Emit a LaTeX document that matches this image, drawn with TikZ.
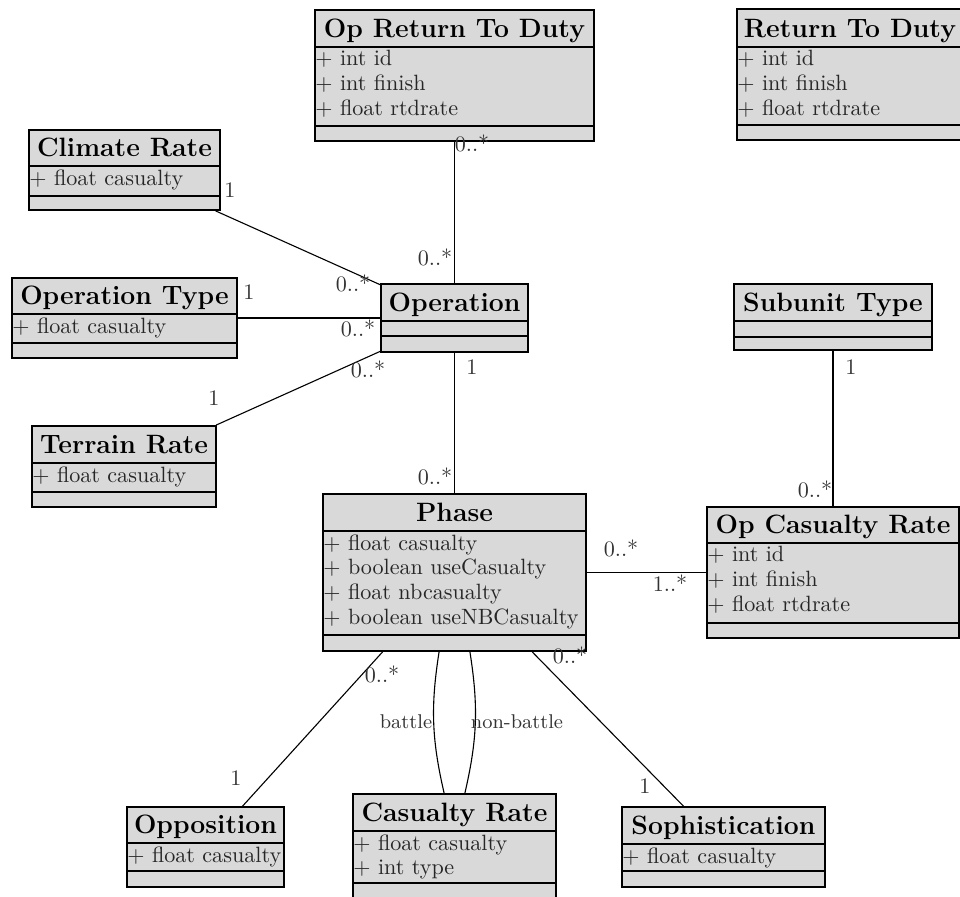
\documentclass[tikz,border=0pt]{standalone}
\usetikzlibrary{fit}
\definecolor{classfill}{RGB}{217,217,217}
\tikzset{
  classbox/.style={draw=black, line width=0.8pt, fill=classfill, inner sep=0pt},
  classrule/.style={line width=1.1pt},
  classtitle/.style={font=\large\bfseries, anchor=base, inner sep=0pt},
  classattr/.style={font=\fontsize{10}{11.2}\selectfont, anchor=north west,
    align=left, inner sep=0pt, text=black!85},
  assoc/.style={line width=0.5pt},
  mult/.style={font=\normalsize, inner sep=0pt, text=black!80},
  rolelabel/.style={font=\small, inner sep=0pt, text=black!80},
}
% class box: name, x1, y1, x2, y2, title rule, attribute rule, title, attributes
\newcommand\umlclass[9]{%
  \node[classbox, fit={(#2,#3) (#4,#5)}] (#1) {};
  \draw[classrule] (#2,#6) -- (#4,#6);
  \draw[classrule] (#2,#7) -- (#4,#7);
  \node[classtitle] (#1-title) at ({(#2+#4)/2},#6-10) {#8};
  \node[classattr] (#1-attr) at (#2,#6+3) {#9};
}
\newcommand\attr[1]{$+$ #1}
\begin{document}
\begin{tikzpicture}[x=0.452pt, y=-0.452pt]
\clip (0,0) rectangle (960,896);

% classes
\umlclass{oprtd}{315}{10}{594}{141}{47}{126}{Op Return To Duty}
  {\attr{int id}\\ \attr{int finish}\\ \attr{float rtdrate}}
\umlclass{rtd}{737}{9}{963}{140}{47}{125}{Return To Duty}
  {\attr{int id}\\ \attr{int finish}\\ \attr{float rtdrate}}
\umlclass{climate}{29}{130}{220}{210}{166}{196}{Climate Rate}
  {\attr{float casualty}}
\umlclass{optype}{12}{278}{237}{358}{314}{343}{Operation Type}
  {\attr{float casualty}}
\umlclass{operation}{381}{284}{528}{352}{321}{336}{Operation}{}
\umlclass{terrain}{32}{426}{216}{507}{463}{492}{Terrain Rate}
  {\attr{float casualty}}
\umlclass{subunit}{734}{284}{932}{350}{321}{337}{Subunit Type}{}
\umlclass{phase}{323}{494}{586}{651}{531}{635}{Phase}
  {\attr{float casualty}\\ \attr{boolean useCasualty}\\
   \attr{float nbcasualty}\\ \attr{boolean useNBCasualty}}
\umlclass{opcas}{707}{507}{959}{638}{543}{623}{Op Casualty Rate}
  {\attr{int id}\\ \attr{int finish}\\ \attr{float rtdrate}}
\umlclass{opposition}{127}{807}{284}{887}{843}{871}{Opposition}
  {\attr{float casualty}}
\umlclass{casualty}{353}{794}{556}{899}{831}{883}{Casualty Rate}
  {\attr{float casualty}\\ \attr{int type}}
\umlclass{soph}{622}{807}{825}{887}{844}{871}{Sophistication}
  {\attr{float casualty}}

% associations
\draw[assoc] (oprtd) -- (operation);
\draw[assoc] (climate) -- (operation);
\draw[assoc] (optype) -- (operation);
\draw[assoc] (terrain) -- (operation);
\draw[assoc] (operation) -- (phase);
\draw[assoc] (subunit) -- (opcas);
\draw[assoc] (phase) -- (opcas);
\draw[assoc] (phase) -- (opposition);
\draw[assoc] (phase) -- (soph);
\draw[assoc] (phase) to[bend right=11] (casualty);
\draw[assoc] (phase) to[bend left=11] (casualty);

% multiplicities
\node[mult] (m-oprtd) at (472,143) {0..*};
\node[mult] (m-op-top) at (435,257) {0..*};
\node[mult] (m-climate) at (230,190) {1};
\node[mult] (m-op-climate) at (353,283) {0..*};
\node[mult] (m-optype) at (249,292) {1};
\node[mult] (m-op-optype) at (358,328) {0..*};
\node[mult] (m-op-terrain) at (368,369) {0..*};
\node[mult] (m-terrain) at (214,398) {1};
\node[mult] (m-op-phase) at (472,367) {1};
\node[mult] (m-phase-top) at (435,476) {0..*};
\node[mult] (m-subunit) at (851,367) {1};
\node[mult] (m-opcas-top) at (815,489) {0..*};
\node[mult] (m-phase-right) at (621,548) {0..*};
\node[mult] (m-opcas-left) at (670,583) {1..*};
\node[mult] (m-phase-opp) at (382,674) {0..*};
\node[mult] (m-opposition) at (236,778) {1};
\node[mult] (m-phase-soph) at (570,655) {0..*};
\node[mult] (m-soph) at (645,786) {1};

% roles
\node[rolelabel] (r-battle) at (406,722) {battle};
\node[rolelabel] (r-nonbattle) at (517,722) {non-battle};
\end{tikzpicture}
\end{document}
